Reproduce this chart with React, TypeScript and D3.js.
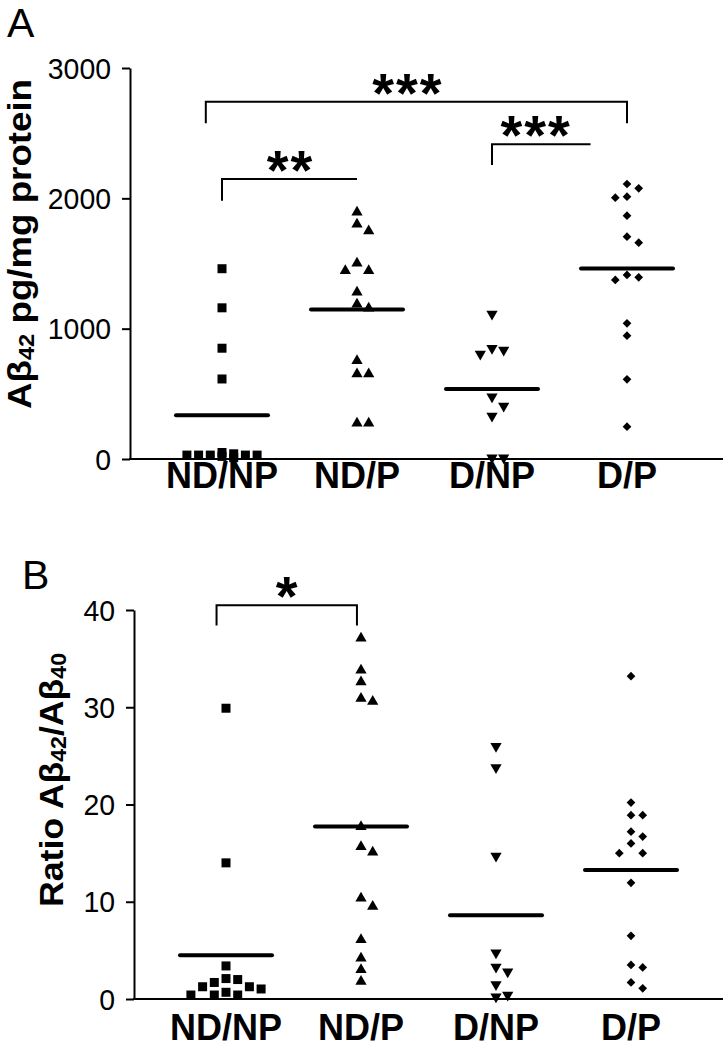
import React, { useEffect, useRef } from 'react';
import * as d3 from 'd3';

// groups on the x axis
const groups = ['ND/NP', 'ND/P', 'D/NP', 'D/P'];

// panel A: Abeta42 pg/mg protein
const yTicksA = [0, 1000, 2000, 3000];
const ndnpA = [1460, 1160, 850, 614, 40, 30, 30, 20, 50, 10, 30, 30, 30];
const ndpA = [1893, 1801, 1750, 1502, 1445, 1445, 1279, 1187, 1156, 754, 652, 652, 274, 274];
const dnpA = [1113, 850, 837, 806, 478, 407, 330, 10, 10];
const dpA = [2110, 2077, 2013, 2005, 1867, 1706, 1660, 1412, 1394, 1374, 1041, 946, 611, 248];

// panel B: ratio Abeta42/Abeta40
const yTicksB = [0, 10, 20, 30, 40];
const ndnpB = [29.9, 14.0, 3.4, 2.1, 2.0, 1.7, 1.26, 1.26, 1.03, 0.69, 0.41, 0.41, 0.41];
const ndpB = [37.1, 33.8, 32.6, 30.9, 30.6, 17.7, 15.65, 15.1, 10.35, 9.5, 6.1, 4.2, 3.0, 1.8];
const dnpB = [26.0, 23.8, 14.7, 4.76, 3.3, 2.8, 1.5, 0.4, 0.24];
const dpB = [33.2, 20.2, 18.9, 18.9, 17.2, 16.7, 16.0, 15.0, 15.0, 11.95, 6.5, 3.5, 3.25, 1.7, 1.1];

// significance brackets (x in group index units, y in data units)
const bracketsA = [
  { from: -0.12, to: 3, at: 1.37, y: 2742, drop: 2576, left: true, right: true, label: '***' },
  { from: 0, to: 1, at: 0.5, y: 2149, drop: 1982, left: true, right: false, label: '**' },
  { from: 2, to: 2.73, at: 2.32, y: 2415, drop: 2256, left: true, right: false, label: '***' },
];
const bracketsB = [
  { from: -0.07, to: 0.97, at: 0.45, y: 40.5, drop: 38.4, left: true, right: true, label: '*' },
];

const FONT = '"Liberation Sans", Arial, Helvetica, sans-serif';

type Shape = 'square' | 'triangle' | 'down' | 'diamond';
const shapes: Shape[] = ['square', 'triangle', 'down', 'diamond'];

function markerPath(shape: Shape) {
  if (shape === 'square') return d3.symbol(d3.symbolSquare, 81)();
  if (shape === 'diamond') return d3.symbol(d3.symbolSquare, 38)();
  return d3.symbol(d3.symbolTriangle, 55)();
}
function markerRotate(shape: Shape) {
  if (shape === 'down') return 180;
  if (shape === 'diamond') return 45;
  return 0;
}

// simple column packing so overlapping points sit side by side
function swarm(values: number[], y: d3.ScaleLinear<number, number>, step: number, minGap: number) {
  const sorted = [...values].sort((a, b) => b - a);
  const placed: { py: number; col: number }[] = [];
  const order = [0, 1, -1, 2, -2, 3, -3];
  return sorted.map((v) => {
    const py = y(v);
    let col = NaN;
    let best = 0, bestD = -1;
    for (const c of order) {
      const near = placed.filter((p) => p.col === c).map((p) => Math.abs(p.py - py));
      const d = near.length ? Math.min(...near) : Infinity;
      if (d >= minGap) { col = c; break; }
      if (d > bestD) { bestD = d; best = c; }
    }
    if (isNaN(col)) col = best;
    placed.push({ py, col });
    return { v, py, dx: col * step };
  });
}

interface Panel {
  letter: string;
  letterX: number;
  letterY: number;
  axisX: number;
  top: number;
  bottom: number;
  firstX: number;
  lastX: number;
  domain: [number, number];
  ticks: number[];
  series: number[][];
  brackets: typeof bracketsA;
  xLabelY: number;
  yLabel: { text: string; sub?: boolean }[];
  yLabelX: number;
  yLabelY: number;
  yLabelSize: number;
  yLabelLen: number;
}

const panels: Panel[] = [
  {
    letter: 'A', letterX: 7, letterY: 37, axisX: 130, top: 68, bottom: 459,
    firstX: 222, lastX: 627, domain: [0, 3000], ticks: yTicksA,
    series: [ndnpA, ndpA, dnpA, dpA], brackets: bracketsA, xLabelY: 488,
    yLabel: [{ text: 'Aβ' }, { text: '42', sub: true }, { text: ' pg/mg protein' }],
    yLabelX: 31, yLabelY: 244, yLabelSize: 34, yLabelLen: 330,
  },
  {
    letter: 'B', letterX: 22, letterY: 589, axisX: 134, top: 610, bottom: 999,
    firstX: 226, lastX: 631, domain: [0, 40], ticks: yTicksB,
    series: [ndnpB, ndpB, dnpB, dpB], brackets: bracketsB, xLabelY: 1040,
    yLabel: [{ text: 'Ratio Aβ' }, { text: '42', sub: true }, { text: '/Aβ' }, { text: '40', sub: true }],
    yLabelX: 63, yLabelY: 780, yLabelSize: 34, yLabelLen: 254,
  },
];

function drawPanel(svg: d3.Selection<SVGSVGElement, unknown, null, undefined>, p: Panel) {
  const y = d3.scaleLinear().domain(p.domain).range([p.bottom, p.top]);
  const x = d3.scalePoint<string>().domain(groups).range([p.firstX, p.lastX]);
  const xi = d3.scaleLinear().domain([0, groups.length - 1]).range([p.firstX, p.lastX]);

  const g = svg.append('g');

  g.append('text')
    .attr('x', p.letterX).attr('y', p.letterY)
    .attr('font-family', FONT).attr('font-size', 41)
    .text(p.letter);

  // y axis: line and ticks from d3, labels drawn on their own
  const ya = g.append('g')
    .attr('transform', `translate(${p.axisX},0)`)
    .call(d3.axisLeft(y).tickValues(p.ticks).tickSize(8).tickSizeOuter(0).tickFormat(() => ''));
  ya.select('.domain').attr('stroke', '#000').attr('stroke-width', 2);
  ya.selectAll('.tick line').attr('stroke', '#000').attr('stroke-width', 2);
  ya.selectAll('.tick text').remove();

  g.selectAll('.ylab').data(p.ticks).enter().append('text')
    .attr('class', 'ylab')
    .attr('x', p.axisX - 19).attr('y', (d) => y(d) + 10.5)
    .attr('text-anchor', 'end')
    .attr('textLength', (d) => String(d).length * 15.8)
    .attr('lengthAdjust', 'spacingAndGlyphs')
    .style('font-family', FONT).style('font-size', '30px')
    .attr('fill', '#000')
    .text((d) => String(d));

  // x axis line
  g.append('line')
    .attr('x1', p.axisX - 1).attr('x2', 723)
    .attr('y1', p.bottom).attr('y2', p.bottom)
    .attr('stroke', '#000').attr('stroke-width', 2);

  g.selectAll('.xlab').data(groups).enter().append('text')
    .attr('class', 'xlab')
    .attr('x', (d) => x(d)!).attr('y', p.xLabelY)
    .attr('text-anchor', 'middle')
    .style('font-family', FONT).style('font-weight', 'bold').style('font-size', '36px')
    .text((d) => d);

  // y label
  const yl = g.append('text')
    .attr('transform', `translate(${p.yLabelX},${p.yLabelY}) rotate(-90)`)
    .attr('text-anchor', 'middle')
    .attr('textLength', p.yLabelLen)
    .attr('lengthAdjust', 'spacingAndGlyphs')
    .style('font-family', FONT).style('font-weight', 'bold').style('font-size', `${p.yLabelSize}px`);
  const subSize = Math.round(p.yLabelSize * 0.64);
  let shifted = false;
  p.yLabel.forEach((part) => {
    const t = yl.append('tspan').text(part.text);
    if (part.sub) {
      t.style('font-size', `${subSize}px`);
      if (!shifted) { t.attr('dy', 3); shifted = true; }
    } else if (shifted) { t.attr('dy', -3); shifted = false; }
  });

  // points and means
  p.series.forEach((vals, i) => {
    const cx = x(groups[i])!;
    const shape = shapes[i];
    const pts = swarm(vals, y, 11.7, 11);
    g.append('g').selectAll('path').data(pts).enter().append('path')
      .attr('d', markerPath(shape))
      .attr('transform', (d) => `translate(${cx + d.dx},${d.py}) rotate(${markerRotate(shape)})`)
      .attr('fill', '#000');
    const m = d3.mean(vals)!;
    g.append('line')
      .attr('x1', cx - 46).attr('x2', cx + 46)
      .attr('y1', y(m)).attr('y2', y(m))
      .attr('stroke', '#000').attr('stroke-width', 4).attr('stroke-linecap', 'round');
  });

  // brackets
  p.brackets.forEach((b) => {
    const x1 = xi(b.from), x2 = xi(b.to), yy = y(b.y), yd = y(b.drop);
    const path = d3.path();
    if (b.left) { path.moveTo(x1, yd); path.lineTo(x1, yy); } else path.moveTo(x1, yy);
    path.lineTo(x2, yy);
    if (b.right) path.lineTo(x2, yd);
    g.append('path').attr('d', path.toString())
      .attr('fill', 'none').attr('stroke', '#000').attr('stroke-width', 2);
    g.append('text')
      .attr('x', xi(b.at) + 1).attr('y', yy + 10)
      .attr('text-anchor', 'middle')
      .style('font-family', FONT).style('font-weight', 'bold').style('font-size', '56px')
      .attr('letter-spacing', 2)
      .text(b.label);
  });
}

export default function App() {
  const ref = useRef<SVGSVGElement>(null);
  useEffect(() => {
    const svg = d3.select(ref.current!);
    svg.selectAll('*').remove();
    panels.forEach((p) => drawPanel(svg, p));
  }, []);
  return (
    <svg ref={ref} width={723} height={1048}
      style={{ position: 'absolute', left: 0, top: 0, background: '#fff' }} />
  );
}
